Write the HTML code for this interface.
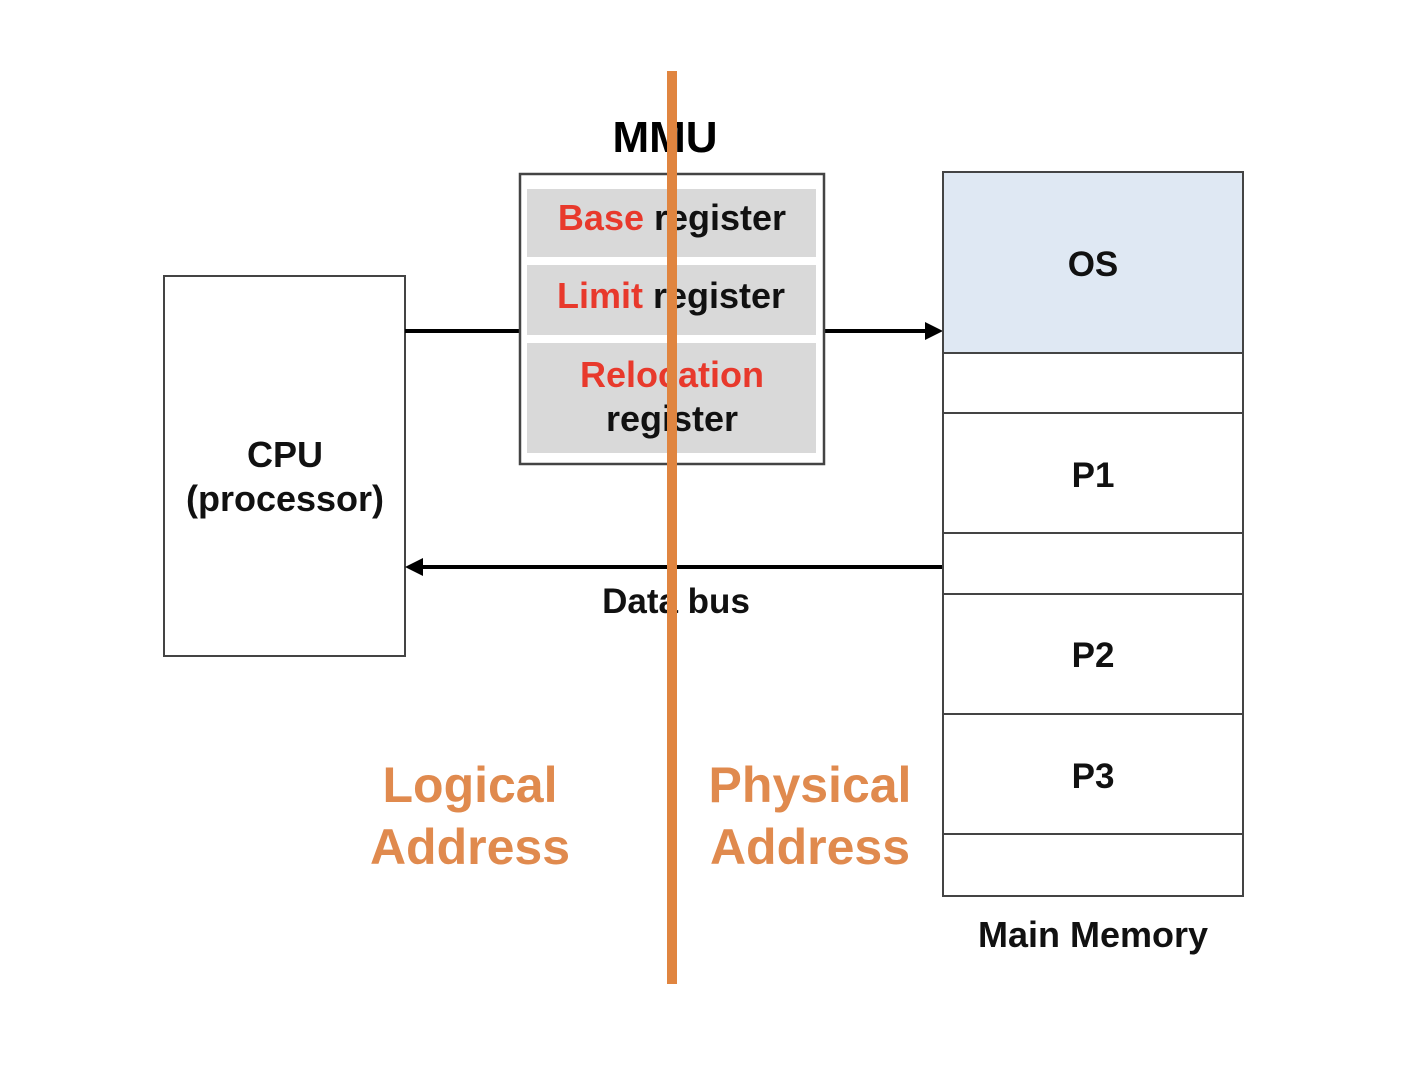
<!DOCTYPE html>
<html><head><style>body{margin:0;background:#fff}svg{display:block}text{font-family:"Liberation Sans","Noto Sans CJK KR",sans-serif;font-weight:bold}</style></head>
<body>
<svg width="1402" height="1082" viewBox="0 0 1402 1082" xmlns="http://www.w3.org/2000/svg">
<rect x="164" y="276" width="241" height="380" fill="#fff" stroke="#444" stroke-width="2"/>
<text x="285" y="467" font-size="36" text-anchor="middle" fill="#111">CPU</text>
<text x="285" y="511" font-size="36" text-anchor="middle" fill="#111">(processor)</text>
<line x1="405" y1="331" x2="519" y2="331" stroke="#000" stroke-width="4"/>
<line x1="824" y1="331" x2="928" y2="331" stroke="#000" stroke-width="4"/>
<polygon points="943,331 925,322 925,340" fill="#000"/>
<line x1="943" y1="567" x2="422" y2="567" stroke="#000" stroke-width="4"/>
<polygon points="405,567 423,558 423,576" fill="#000"/>
<text x="676" y="613" font-size="35" text-anchor="middle" fill="#111">Data bus</text>
<text x="665" y="152" font-size="44" text-anchor="middle" fill="#000">MMU</text>
<rect x="520" y="174" width="304" height="290" fill="#fff" stroke="#444" stroke-width="2.5"/>
<rect x="527" y="189" width="289" height="68" fill="#d9d9d9"/>
<rect x="527" y="265" width="289" height="70" fill="#d9d9d9"/>
<rect x="527" y="343" width="289" height="110" fill="#d9d9d9"/>
<text x="672" y="230" font-size="36" text-anchor="middle"><tspan fill="#e8392c">Base</tspan><tspan fill="#111"> register</tspan></text>
<text x="671" y="308" font-size="36" text-anchor="middle"><tspan fill="#e8392c">Limit</tspan><tspan fill="#111"> register</tspan></text>
<text x="672" y="387" font-size="36" text-anchor="middle" fill="#e8392c">Relocation</text>
<text x="672" y="431" font-size="36" text-anchor="middle" fill="#111">register</text>
<rect x="943" y="172" width="300" height="181" fill="#dfe8f3"/>
<rect x="943" y="172" width="300" height="724" fill="none" stroke="#444" stroke-width="2"/>
<g stroke="#444" stroke-width="2">
<line x1="943" y1="353" x2="1243" y2="353"/><line x1="943" y1="413" x2="1243" y2="413"/>
<line x1="943" y1="533" x2="1243" y2="533"/><line x1="943" y1="594" x2="1243" y2="594"/>
<line x1="943" y1="714" x2="1243" y2="714"/><line x1="943" y1="834" x2="1243" y2="834"/>
</g>
<g font-size="35" text-anchor="middle" fill="#111">
<text x="1093" y="276">OS</text><text x="1093" y="487">P1</text>
<text x="1093" y="667">P2</text><text x="1093" y="788">P3</text>
<text x="1093" y="947" font-size="36">Main Memory</text>
</g>
<g font-size="50" text-anchor="middle" fill="#e08a4e">
<text x="470" y="802">Logical</text><text x="470" y="864">Address</text>
<text x="810" y="802">Physical</text><text x="810" y="864">Address</text>
</g>
<line x1="672" y1="71" x2="672" y2="984" stroke="#e08540" stroke-width="10"/>
</svg>
</body></html>
